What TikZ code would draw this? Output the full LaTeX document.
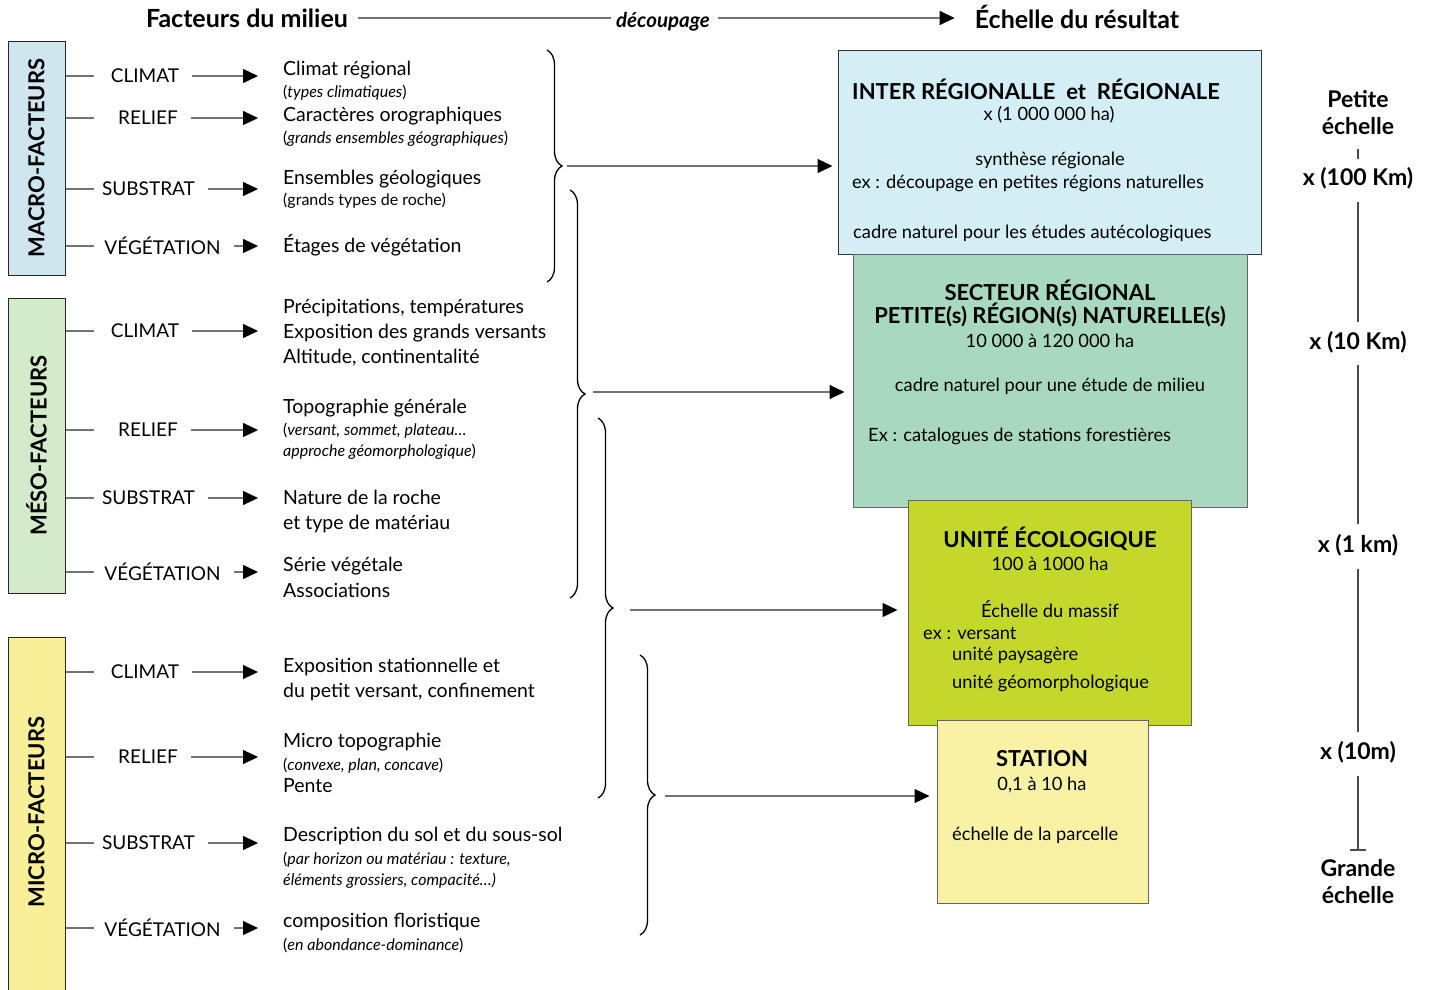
\documentclass[tikz,border=0pt]{standalone}
\usepackage{fontspec}
\setmainfont{Lato}
\usetikzlibrary{arrows.meta,decorations.pathreplacing}

\definecolor{macroblue}{HTML}{CFE6EE}
\definecolor{mesogreen}{HTML}{D3EBCB}
\definecolor{microyellow}{HTML}{F8EF98}
\definecolor{regblue}{HTML}{D4EEF6}
\definecolor{secgreen}{HTML}{A8D8BD}
\definecolor{unilime}{HTML}{C4D82C}
\definecolor{staylw}{HTML}{F9F2A4}

\newcommand\smalltxt[1]{{\fontsize{16}{24}\selectfont #1}}

\begin{document}
\begin{tikzpicture}[
  x=1pt, y=-1pt,
  every node/.style={inner sep=0pt},
  fbox/.style={draw=black!85, line width=1pt, minimum width=57pt},
  vlab/.style={rotate=90, font=\fontsize{22}{24}\selectfont\bfseries},
  fact/.style={font=\fontsize{19}{22}\selectfont},
  desc/.style={anchor=base west, align=left, font=\fontsize{19.5}{24}\selectfont},
  res/.style={draw=black!60, line width=1pt},
  ttl/.style={font=\fontsize{22}{23}\selectfont\bfseries, align=center},
  bd/.style={font=\fontsize{18.3}{22}\selectfont},
  scl/.style={font=\fontsize{23}{27}\selectfont\bfseries, align=center},
  gl/.style={draw=black!55, line width=1.1pt},
  fl/.style={draw=black!55, line width=1.1pt, -{Triangle[length=15pt, width=14pt, color=black]}},
  brc/.style={decorate, decoration={brace, amplitude=15pt}, line width=1.3pt},
  sline/.style={draw=black!70, line width=1.5pt}
]
\useasboundingbox (0,0) rectangle (1430,989);

% ---------- header ----------
\node[font=\fontsize{25}{28}\selectfont\bfseries] (fac) at (247,18) {Facteurs du milieu};
\node[font=\fontsize{20.5}{24}\selectfont\bfseries\itshape] (dec) at (663,22) {découpage};
\node[font=\fontsize{25}{28}\selectfont\bfseries] (ech) at (1077,17) {Échelle du résultat};
\draw[gl, shorten <=10pt, shorten >=5pt] (fac.east) -- (dec.west |- fac.east);
\draw[fl, shorten <=8pt, shorten >=20pt] (dec.east |- fac.east) -- (ech.west |- fac.east);

% ---------- groups of factors ----------
\node[fbox, fill=macroblue, minimum height=234pt] (macro) at (36.5,158) {};
\node[vlab] at (macro) {MACRO-FACTEURS};
\node[fbox, fill=mesogreen, minimum height=295pt] (meso) at (36.5,445.5) {};
\node[vlab] at (meso) {MÉSO-FACTEURS};
\node[fbox, fill=microyellow, minimum height=360pt] (micro) at (36.5,817) {};
\node[vlab] at (36.5,812) {MICRO-FACTEURS};

\foreach \nm/\x/\y/\t in {ma1/145/76/CLIMAT, ma2/148/118/RELIEF, ma3/148.5/189/SUBSTRAT, ma4/162.5/246/VÉGÉTATION,
    me1/145/331/CLIMAT, me2/148/430/RELIEF, me3/148.5/498/SUBSTRAT, me4/162.5/572/VÉGÉTATION,
    mi1/145/672/CLIMAT, mi2/148/757/RELIEF, mi3/148.5/843/SUBSTRAT, mi4/162.5/928/VÉGÉTATION}
  \node[fact] (\nm) at (\x,\y) {\t};

% ---------- descriptions ----------
\node[desc] (dma1) at (283,97) {Climat régional\\[-2pt]\smalltxt{(\textit{types climatiques})}};
\node[desc] (dma2) at (283,143) {Caractères orographiques\\[-2pt]\smalltxt{(\textit{grands ensembles géographiques})}};
\node[desc] (dma3) at (283,205) {Ensembles géologiques\\[-3pt]\smalltxt{(grands types de roche)}};
\node[desc] (dma4) at (283,252) {Étages de végétation};

\node[desc] (dme1) at (283,363) {Précipitations, températures\\[1pt]Exposition des grands versants\\[1pt]Altitude, continentalité};
\node[desc] (dme2) at (283,456) {Topographie générale\\[-2pt]\smalltxt{(\textit{versant, sommet, plateau…}}\\[-3pt]\smalltxt{\textit{approche géomorphologique})}};
\node[desc] (dme3) at (283,529) {Nature de la roche\\[1pt]et type de matériau};
\node[desc] (dme4) at (283,597) {Série végétale\\[2pt]Associations};

\node[desc] (dmi1) at (283,697) {Exposition stationnelle et\\[1pt]du petit versant, confinement};
\node[desc] (dmi2) at (283,792) {Micro topographie\\[-1pt]\smalltxt{(\textit{convexe, plan, concave})}\\[-2pt]Pente};
\node[desc] (dmi3) at (283,885) {Description du sol et du sous-sol\\[-1pt]\smalltxt{(\textit{par horizon ou matériau : texture,}}\\[-3pt]\smalltxt{\textit{éléments grossiers, compacité…)}}};
\node[desc] (dmi4) at (283,950) {composition floristique\\[-1pt]\smalltxt{(\textit{en abondance-dominance})}};

\foreach \nm/\bx in {ma1/macro, ma2/macro, ma3/macro, ma4/macro, me1/meso, me2/meso, me3/meso, me4/meso,
    mi1/micro, mi2/micro, mi3/micro, mi4/micro} {
  \draw[gl] (\nm -| \bx.east) -- ++(28,0);
  \draw[fl, shorten <=13pt, shorten >=25pt] (\nm) -- (\nm -| d\nm.west);
}

% ---------- resulting scales ----------
\node[res, draw=black!80, fill=regblue, minimum width=423pt, minimum height=204pt] (r1) at (1049.5,152) {};
\node[ttl] (r1t) at (1036,89) {INTER RÉGIONALLE~~et~~RÉGIONALE};
\node[bd] (r1a) at (1049,115) {x (1 000 000 ha)};
\node[bd] (r1b) at (1050,160) {synthèse régionale};
\node[bd] (r1c) at (1028,183) {ex : découpage en petites régions naturelles};
\node[bd, anchor=west] (r1d) at (853,233) {cadre naturel pour les études autécologiques};

\node[res, fill=secgreen, minimum width=394pt, minimum height=253pt] (r2) at (1050,380.5) {};
\node[ttl] (r2t) at (1050,303) {SECTEUR RÉGIONAL\\PETITE(s) RÉGION(s) NATURELLE(s)};
\node[bd] (r2a) at (1050,341) {10 000 à 120 000 ha};
\node[bd] (r2b) at (1050,386) {cadre naturel pour une étude de milieu};
\node[bd, anchor=west] (r2c) at (868,436) {Ex : catalogues de stations forestières};

\node[res, fill=unilime, minimum width=283pt, minimum height=225pt] (r3) at (1049.5,612.5) {};
\node[ttl] (r3t) at (1050,539) {UNITÉ ÉCOLOGIQUE};
\node[bd] (r3a) at (1050,564) {100 à 1000 ha};
\node[bd] (r3b) at (1050,609) {Échelle du massif};
\node[bd, anchor=west] (r3c) at (923,633) {ex : versant};
\node[bd, anchor=west] (r3d) at (952,655) {unité paysagère};
\node[bd, anchor=west] (r3e) at (952,683) {unité géomorphologique};

\node[res, fill=staylw, minimum width=211pt, minimum height=183pt] (r4) at (1042.5,811.5) {};
\node[ttl] (r4t) at (1042,759) {STATION};
\node[bd] (r4a) at (1042,785) {0,1 à 10 ha};
\node[bd, anchor=west] (r4b) at (952,835) {échelle de la parcelle};

% ---------- braces to the results ----------
\coordinate (b1t) at (547,50);  \coordinate (b1b) at (547,282);
\coordinate (b2t) at (570,190); \coordinate (b2b) at (570,598);
\coordinate (b3t) at (598,418); \coordinate (b3b) at (598,798);
\coordinate (b4t) at (640,655); \coordinate (b4b) at (640,935);
\draw[brc] (b1t) -- (b1b);
\draw[brc] (b2t) -- (b2b);
\draw[brc] (b3t) -- (b3b);
\draw[brc] (b4t) -- (b4b);

\coordinate (t1) at (567,166);
\coordinate (t2) at (593,392);
\coordinate (t3) at (630,610);
\coordinate (t4) at (665,796);
\draw[fl, shorten >=5pt] (t1) -- (t1 -| r1.west);
\draw[fl, shorten >=8pt] (t2) -- (t2 -| r2.west);
\draw[fl, shorten >=10pt] (t3) -- (t3 -| r3.west);
\draw[fl, shorten >=7pt] (t4) -- (t4 -| r4.west);

% ---------- scale column ----------
\node[scl] (pet) at (1358,113) {Petite\\échelle};
\node[scl] (s100) at (1358,178) {x (100 Km)};
\node[scl] (s10) at (1358,342) {x (10 Km)};
\node[scl] (s1) at (1358,545) {x (1 km)};
\node[scl] (s10m) at (1358,752) {x (10m)};
\node[scl] (gra) at (1358,882) {Grande\\échelle};
\draw[sline, shorten <=14pt, shorten >=8pt] (pet) -- (s100);
\draw[sline, shorten <=13pt, shorten >=9pt] (s100) -- (s10);
\draw[sline, shorten <=12pt, shorten >=10pt] (s10) -- (s1);
\draw[sline, shorten <=13pt, shorten >=9pt] (s1) -- (s10m);
\draw[sline, -{Bar[width=16pt]}, shorten <=13pt, shorten >=9pt] (s10m) -- (gra);

\end{tikzpicture}
\end{document}
